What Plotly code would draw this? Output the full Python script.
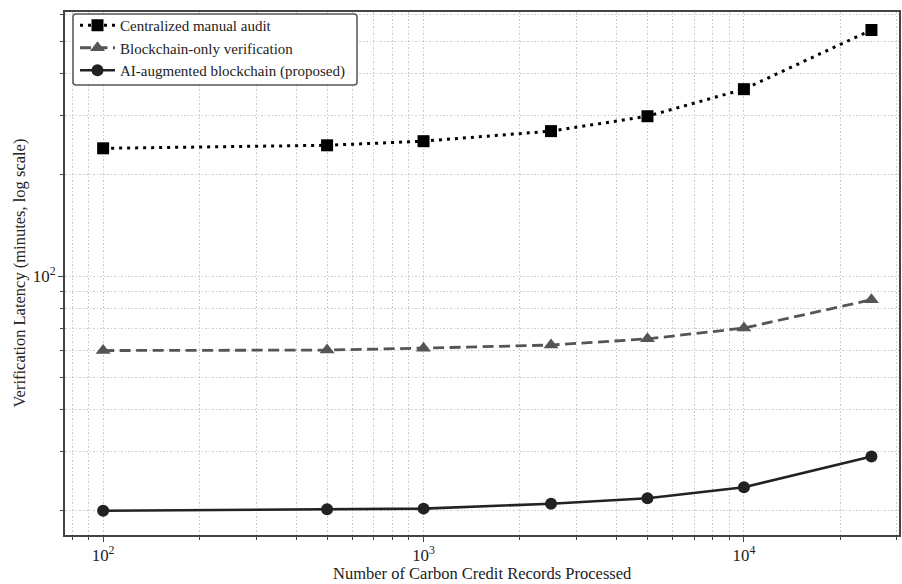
import plotly.graph_objects as go

records = [100, 500, 1000, 2500, 5000, 10000, 25000]
manual_audit = [240, 245, 252, 270, 299, 360, 540]
blockchain_only = [60, 60.2, 61, 62.3, 65, 70, 85]
ai_blockchain = [20, 20.2, 20.3, 21, 21.8, 23.5, 29]

FONT = "Liberation Serif"
W, H = 902, 584
ML, MR, MT, MB = 65, 3, 12, 49
PW, PH = W - ML - MR, H - MT - MB


def px(x):
    return (x - ML) / PW


def py(y):
    return (H - MB - y) / PH


fig = go.Figure()
fig.add_trace(go.Scatter(
    x=records, y=manual_audit, mode="lines+markers",
    name="Centralized manual audit",
    line=dict(color="#000000", width=3, dash="3px,5px"),
    marker=dict(symbol="square", size=12, color="#000000"),
))
fig.add_trace(go.Scatter(
    x=records, y=blockchain_only, mode="lines+markers",
    name="Blockchain-only verification",
    line=dict(color="#555555", width=2.8, dash="11px,5.5px"),
    marker=dict(symbol="triangle-up", size=13, color="#555555"),
))
fig.add_trace(go.Scatter(
    x=records, y=ai_blockchain, mode="lines+markers",
    name="AI-augmented blockchain (proposed)",
    line=dict(color="#222222", width=2.6),
    marker=dict(symbol="circle", size=12, color="#222222"),
))

grid = dict(showgrid=True, gridcolor="#cccccc", griddash="1.5px,2px", gridwidth=1)

# legend frame (rounded)
x0, x1, y0, y1, r = 73, 357, 14, 85, 3
path = (
    f"M {px(x0 + r)} {py(y0)} L {px(x1 - r)} {py(y0)} Q {px(x1)} {py(y0)} {px(x1)} {py(y0 + r)} "
    f"L {px(x1)} {py(y1 - r)} Q {px(x1)} {py(y1)} {px(x1 - r)} {py(y1)} "
    f"L {px(x0 + r)} {py(y1)} Q {px(x0)} {py(y1)} {px(x0)} {py(y1 - r)} "
    f"L {px(x0)} {py(y0 + r)} Q {px(x0)} {py(y0)} {px(x0 + r)} {py(y0)} Z"
)

fig.update_layout(
    width=W, height=H,
    margin=dict(l=ML, r=MR, t=MT, b=MB),
    paper_bgcolor="white", plot_bgcolor="white",
    font=dict(family=FONT, size=16, color="#222222"),
    legend=dict(
        x=px(75), y=py(9), xanchor="left", yanchor="top",
        bgcolor="rgba(0,0,0,0)", borderwidth=0,
        font=dict(family=FONT, size=15, color="#222222"),
        tracegroupgap=0, itemwidth=35,
    ),
    shapes=[dict(type="path", path=path, xref="paper", yref="paper", layer="above",
                 fillcolor="white", line=dict(color="#555555", width=1.5))],
    xaxis=dict(
        type="log", range=[1.881, 4.484], dtick=1, exponentformat="power",
        automargin=False,
        ticks="outside", ticklen=5, tickcolor="#444", showline=True, linecolor="#444",
        linewidth=1.5, mirror=True, zeroline=False,
        tickfont=dict(size=13.5),
        minor=dict(dtick="D1", ticks="outside", ticklen=3, tickcolor="#444", **grid),
        **grid,
    ),
    yaxis=dict(
        type="log", range=[1.229, 2.786], dtick=1, exponentformat="power",
        automargin=False,
        ticks="outside", ticklen=5, tickcolor="#444", showline=True, linecolor="#444",
        linewidth=1.5, mirror=True, zeroline=False,
        tickfont=dict(size=13.5),
        minor=dict(dtick="D1", ticks="outside", ticklen=3, tickcolor="#444", **grid),
        **grid,
    ),
    annotations=[
        dict(text="Number of Carbon Credit Records Processed", xref="paper", yref="paper",
             x=0.5, y=0, yshift=-38, showarrow=False, xanchor="center", yanchor="middle",
             font=dict(family=FONT, size=16.5, color="#222222")),
        dict(text="Verification Latency (minutes, log scale)", xref="paper", yref="paper",
             x=0, y=0.5, xshift=-46, showarrow=False, xanchor="center", yanchor="middle",
             textangle=-90, font=dict(family=FONT, size=16.5, color="#222222")),
    ],
)

fig.write_html("out.html", config={"displayModeBar": False},
               post_script="document.body.style.margin='0';")
